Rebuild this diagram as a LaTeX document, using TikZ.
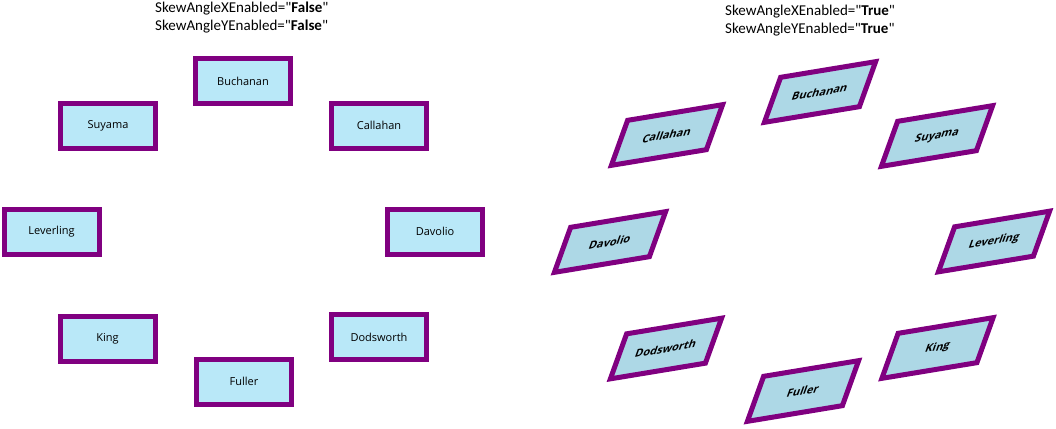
\documentclass[tikz,border=0pt]{standalone}
\usepackage{fontspec}
\setmainfont{Open Sans}
\newfontfamily\headfont{Carlito}
\definecolor{boxpurple}{HTML}{800080}
\definecolor{plainfill}{HTML}{B9E8F8}
\definecolor{skewfill}{HTML}{ADD8E6}

\begin{document}
\begin{tikzpicture}[
    x=1pt, y=-1pt,
    plain box/.style={rectangle, draw=boxpurple, line width=5pt, fill=plainfill, minimum width=95pt, minimum height=45pt, inner sep=0pt, font=\fontsize{11}{13}\selectfont},
    skewed box/.style={plain box, fill=skewfill, transform shape, font=\fontsize{11}{13}\selectfont\bfseries},
    slanted frame/.style={cm={1,0.165,0.36,1,(0,0)}},
    header/.style={font=\headfont\fontsize{15}{18}\selectfont, anchor=base west, inner sep=0pt}
]
\useasboundingbox (0,0) rectangle (1056,428);

% Headers
\node[header] (xoff) at (155,13) {SkewAngleXEnabled="\textbf{False}"};
\node[header] (yoff) at (155,31) {SkewAngleYEnabled="\textbf{False}"};
\node[header] (xon) at (725,16) {SkewAngleXEnabled="\textbf{True}"};
\node[header] (yon) at (725,34) {SkewAngleYEnabled="\textbf{True}"};

% Without skew
\node[plain box] (Buchanan1) at (243,81) {Buchanan};
\node[plain box] (Callahan1) at (379,125.5) {Callahan};
\node[plain box] (Davolio1) at (435,231.5) {Davolio};
\node[plain box] (Dodsworth1) at (379,337) {Dodsworth};
\node[plain box] (Fuller1) at (244,381.5) {Fuller};
\node[plain box] (King1) at (107.5,338.5) {King};
\node[plain box] (Leverling1) at (51.5,231.5) {Leverling};
\node[plain box] (Suyama1) at (108,125.5) {Suyama};

% With skew
\begin{scope}[shift={(820,92)}, slanted frame] \node[skewed box] (Buchanan2) {Buchanan}; \end{scope}
\begin{scope}[shift={(937,136)}, slanted frame] \node[skewed box] (Suyama2) {Suyama}; \end{scope}
\begin{scope}[shift={(994,241.5)}, slanted frame] \node[skewed box] (Leverling2) {Leverling}; \end{scope}
\begin{scope}[shift={(937.5,348)}, slanted frame] \node[skewed box] (King2) {King}; \end{scope}
\begin{scope}[shift={(803,391)}, slanted frame] \node[skewed box] (Fuller2) {Fuller}; \end{scope}
\begin{scope}[shift={(666,348.5)}, slanted frame] \node[skewed box] (Dodsworth2) {Dodsworth}; \end{scope}
\begin{scope}[shift={(610,242)}, slanted frame] \node[skewed box] (Davolio2) {Davolio}; \end{scope}
\begin{scope}[shift={(667,135)}, slanted frame] \node[skewed box] (Callahan2) {Callahan}; \end{scope}

\end{tikzpicture}
\end{document}
